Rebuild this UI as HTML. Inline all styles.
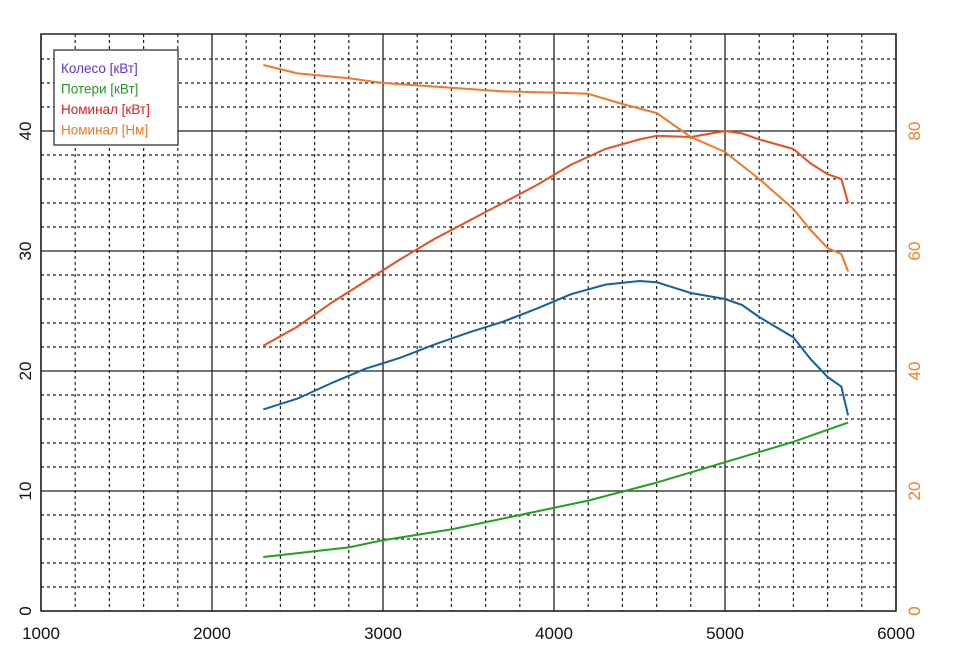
<!DOCTYPE html>
<html><head><meta charset="utf-8"><style>
body{margin:0;background:#fff}
svg{display:block;font-family:"Liberation Sans",sans-serif}
</style></head><body>
<svg id="c" width="960" height="661"></svg>
<script>
const rpmBlue=[2300,2500,2700,2900,3100,3300,3500,3700,3900,4100,4300,4500,4600,4800,5000,5100,5200,5400,5500,5600,5680,5720];
const wheelKw=[16.8,17.7,19.0,20.2,21.1,22.2,23.2,24.1,25.2,26.4,27.2,27.5,27.4,26.5,26.0,25.5,24.5,22.8,21.0,19.5,18.7,16.3];
const rpmGreen=[2300,2800,3000,3400,3800,4200,4600,5000,5400,5720];
const lossKw=[4.5,5.3,5.9,6.8,8.0,9.2,10.7,12.4,14.1,15.7];
const rpmRed=[2300,2500,2700,2900,3100,3300,3500,3700,3900,4100,4300,4500,4600,4800,5000,5100,5200,5400,5500,5600,5680,5720];
const nominalKw=[22.1,23.7,25.7,27.5,29.3,31.0,32.5,34.0,35.5,37.2,38.5,39.3,39.6,39.5,40.0,39.8,39.3,38.5,37.3,36.4,36.0,34.0];
const rpmOrange=[2300,2500,2800,3000,3400,3700,4000,4200,4400,4600,4800,5000,5200,5400,5500,5600,5680,5720];
const nominalNm=[91,89.6,88.8,88.0,87.2,86.6,86.4,86.2,84.5,83,79,76.5,72,67,63.5,60.5,59.5,56.6];
const xTicks=[1000,2000,3000,4000,5000,6000];
const yTicks=[0,10,20,30,40];
const y2Ticks=[0,20,40,60,80];

const NS="http://www.w3.org/2000/svg",svg=document.getElementById('c');
const L=41,R=896,B=611,T=34;
const xs=v=>L+(v-1000)*(R-L)/5000;
const ys=v=>B-v*12;
const y2s=v=>B-v*6;
function mk(t,a,p){const e=document.createElementNS(NS,t);for(const k in a)e.setAttribute(k,a[k]);(p||svg).appendChild(e);return e;}
const g=mk('g',{});


for(let r=1200;r<6000;r+=200){if(r%1000===0)continue;const l=mk('line',{x1:xs(r),x2:xs(r),y1:T,y2:B,stroke:'#222','stroke-width':1.2,'stroke-dasharray':'3,3'},g);}
for(let v=2;v<48;v+=2){if(v%10===0)continue;mk('line',{x1:L,x2:R,y1:ys(v),y2:ys(v),stroke:'#222','stroke-width':1.2,'stroke-dasharray':'3,3'},g);}
xTicks.forEach(r=>mk('line',{x1:xs(r),x2:xs(r),y1:T,y2:B,stroke:'#222','stroke-width':1.3},g));
yTicks.forEach(v=>mk('line',{x1:L,x2:R,y1:ys(v),y2:ys(v),stroke:'#222','stroke-width':1.3},g));
const fr=mk('rect',{x:L,y:T,width:R-L,height:B-T,fill:'none',stroke:'#222','stroke-width':1.5});


xTicks.forEach(r=>{const t=mk('text',{x:xs(r),y:639,'text-anchor':'middle','font-size':17,fill:'#111'});t.textContent=r;

});
yTicks.forEach(v=>{const t=mk('text',{x:0,y:0,transform:`translate(31,${ys(v)}) rotate(-90)`,'text-anchor':'middle','font-size':17,fill:'#111'});t.textContent=v;

});
y2Ticks.forEach(v=>{const t=mk('text',{x:0,y:0,transform:`translate(920,${y2s(v)}) rotate(-90)`,'text-anchor':'middle','font-size':17,fill:'#f08020'});t.textContent=v;

});
function line(xsA,ysA,fy,col,name){const d=xsA.map((r,i)=>(i?'L':'M')+xs(r).toFixed(1)+','+fy(ysA[i]).toFixed(1)).join('');
const p=mk('path',{d,fill:'none',stroke:col,'stroke-width':2,'stroke-linejoin':'round'});

}
line(rpmGreen,lossKw,ys,'#22a022','loss-kw-line');
line(rpmBlue,wheelKw,ys,'#15609e','wheel-kw-line');
line(rpmRed,nominalKw,ys,'#e85020','nominal-kw-line');
line(rpmOrange,nominalNm,y2s,'#f07828','nominal-nm-line');
const lg=mk('g',{});


mk('rect',{x:54,y:50,width:124,height:95,fill:'#fff',stroke:'#222','stroke-width':1.2},lg);
[['Колесо [кВт]','#6633cc'],['Потери [кВт]','#229922'],['Номинал [кВт]','#dd2020'],['Номинал [Нм]','#f07828']].forEach((e,i)=>{
const t=mk('text',{x:61,y:73+i*20.5,'font-size':13.5,fill:e[1]},lg);t.textContent=e[0];

});
</script>
</body></html>
